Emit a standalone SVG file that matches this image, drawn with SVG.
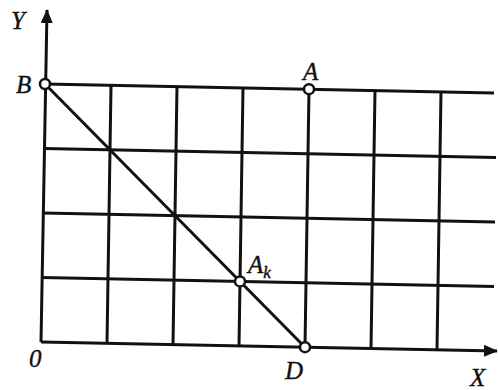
<svg xmlns="http://www.w3.org/2000/svg" width="498" height="390" viewBox="0 0 498 390">
<style>
.g{stroke:#111;stroke-width:3;fill:none;stroke-linecap:butt}
.pt{fill:#fff;stroke:#111;stroke-width:2.5}
.lb{font-family:"Liberation Serif","DejaVu Serif",serif;font-style:italic;font-size:25px;fill:#111;stroke:#111;stroke-width:0.4}
</style>
<defs>
<marker id="arr" viewBox="0 0 14 12" refX="13" refY="6" markerWidth="14" markerHeight="12" markerUnits="userSpaceOnUse" orient="auto">
<path d="M0,0 L14,6 L0,12 Z" fill="#111"/>
</marker>
</defs>
<rect width="498" height="390" fill="#fff"/>
<g id="connectors">
<g id="grid">
<line class="g" x1="42" y1="277.5" x2="494" y2="286.4"/>
<line class="g" x1="43" y1="213" x2="495" y2="221.9"/>
<line class="g" x1="44" y1="148.5" x2="496" y2="157.4"/>
<line class="g" x1="45" y1="84" x2="494" y2="92.9"/>
<line class="g" x1="107" y1="343.3" x2="111" y2="85.3"/>
<line class="g" x1="173" y1="344.6" x2="177" y2="86.6"/>
<line class="g" x1="239" y1="345.9" x2="243" y2="87.9"/>
<line class="g" x1="305" y1="347.2" x2="309" y2="89.2"/>
<line class="g" x1="371" y1="348.5" x2="375" y2="90.5"/>
<line class="g" x1="437" y1="349.8" x2="441" y2="91.8"/>
</g>
<line id="x-axis" class="g" x1="41" y1="342" x2="497" y2="351" marker-end="url(#arr)"/>
<line id="y-axis" class="g" x1="41" y1="342" x2="47" y2="10" marker-end="url(#arr)"/>
<line id="BD" class="g" x1="45" y1="84" x2="305" y2="347.2"/>
</g>
<g id="O"><text class="lb" x="29" y="367" font-size="26">0</text></g>
<g id="Y"><text class="lb" x="11" y="29">Y</text></g>
<g id="X"><text class="lb" x="470" y="386" font-size="23">X</text></g>
<g id="B"><circle class="pt" cx="45" cy="84" r="5"/><text class="lb" x="16" y="93">B</text></g>
<g id="A"><circle class="pt" cx="309" cy="89.2" r="5"/><text class="lb" x="303" y="80">A</text></g>
<g id="Ak"><circle class="pt" cx="240" cy="281.4" r="5"/><text class="lb" x="248" y="273">A<tspan font-size="17" dy="5">k</tspan></text></g>
<g id="D"><circle class="pt" cx="305" cy="347.2" r="5"/><text class="lb" x="285" y="379">D</text></g>
</svg>
